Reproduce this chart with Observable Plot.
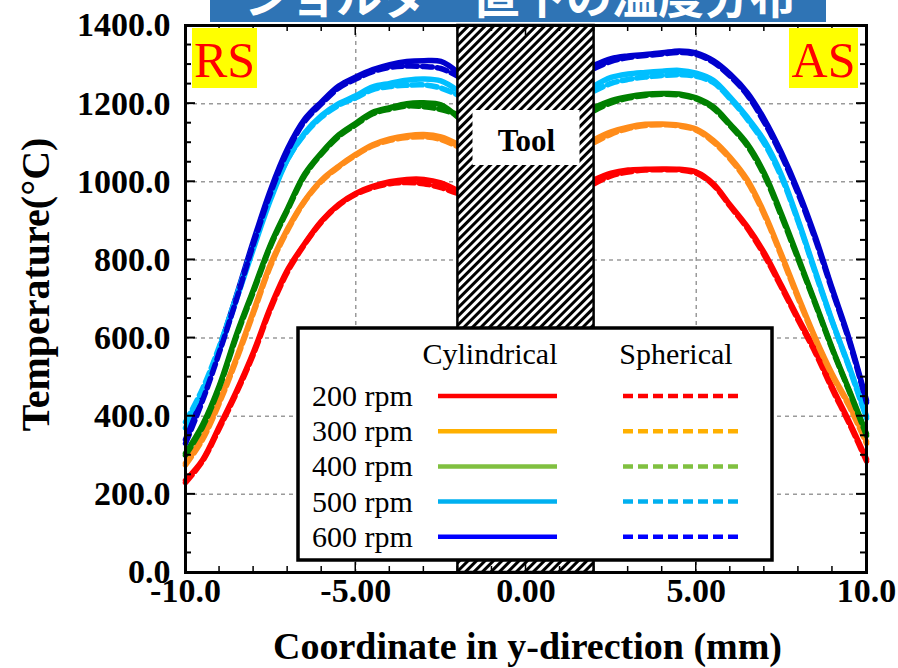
<!DOCTYPE html>
<html><head><meta charset="utf-8">
<script src="https://cdn.jsdelivr.net/npm/d3@7"></script>
<script src="https://cdn.jsdelivr.net/npm/@observablehq/plot@0.6"></script>
<style>
body{margin:0;background:#fff;}
#chart{position:relative;width:898px;height:668px;overflow:hidden;}
</style></head><body><div id="chart"></div>
<script>
// ---------- data ----------
const speeds = ["200 rpm", "300 rpm", "400 rpm", "500 rpm", "600 rpm"];
const lineColors = ["#ff0000", "#ff8c1a", "#008000", "#00bfff", "#0000cd"];
const legendColors = ["#ff0000", "#ffb000", "#80c040", "#00b0f0", "#0000ff"];
const typeNames = ["Cylindrical", "Spherical"];

const xLeft  = [-10, -9.5, -9, -8.5, -8, -7.5, -7, -6.5, -6, -5.5, -5, -4.5, -4, -3.5, -3, -2.5, -2];
const xRight = [2, 2.5, 3, 3.5, 4, 4.5, 5, 5.5, 6, 6.5, 7, 7.5, 8, 8.5, 9, 9.5, 10];

// Cylindrical (solid)
const cyl200L = [236, 288, 375, 465, 565, 680, 775, 842, 900, 942, 970, 988, 1000, 1006, 1006, 997, 977];
const cyl300L = [280, 345, 440, 550, 670, 790, 880, 952, 1005, 1040, 1070, 1095, 1110, 1118, 1121, 1115, 1096];
const cyl400L = [305, 378, 480, 610, 725, 840, 932, 1020, 1075, 1120, 1150, 1178, 1190, 1200, 1202, 1197, 1165];
const cyl500L = [370, 460, 570, 700, 830, 955, 1058, 1125, 1170, 1200, 1220, 1243, 1252, 1260, 1263, 1258, 1233];
const cyl600L = [340, 450, 575, 710, 850, 980, 1085, 1160, 1205, 1245, 1268, 1287, 1300, 1308, 1310, 1308, 1280];
const cyl200R = [1005, 1022, 1030, 1032, 1033, 1032, 1025, 995, 940, 885, 818, 735, 650, 568, 473, 385, 290];
const cyl300R = [1108, 1128, 1140, 1147, 1148, 1145, 1135, 1106, 1062, 1005, 920, 815, 705, 600, 507, 428, 335];
const cyl400R = [1190, 1208, 1218, 1224, 1226, 1225, 1215, 1192, 1147, 1097, 1022, 918, 805, 690, 573, 465, 355];
const cyl500R = [1245, 1267, 1276, 1280, 1283, 1285, 1278, 1260, 1216, 1165, 1105, 1018, 900, 770, 642, 525, 400];
const cyl600R = [1298, 1315, 1322, 1326, 1330, 1335, 1330, 1310, 1275, 1228, 1160, 1075, 975, 858, 725, 595, 440];

// Spherical (dashed)
const sph200L = [230, 285, 370, 460, 560, 675, 770, 840, 898, 940, 968, 985, 995, 998, 995, 985, 970];
const sph300L = [275, 340, 435, 545, 665, 785, 876, 950, 1002, 1038, 1068, 1092, 1106, 1113, 1115, 1108, 1090];
const sph400L = [300, 372, 475, 605, 720, 836, 928, 1016, 1072, 1116, 1146, 1174, 1186, 1194, 1192, 1185, 1172];
const sph500L = [385, 470, 580, 708, 838, 960, 1058, 1122, 1166, 1196, 1215, 1236, 1244, 1247, 1248, 1240, 1222];
const sph600L = [330, 440, 565, 700, 842, 972, 1078, 1155, 1200, 1240, 1263, 1282, 1293, 1296, 1295, 1290, 1270];
const sph200R = [995, 1015, 1025, 1030, 1031, 1030, 1022, 992, 937, 881, 812, 730, 645, 562, 468, 380, 285];
const sph300R = [1100, 1122, 1136, 1144, 1146, 1143, 1132, 1102, 1058, 1000, 915, 810, 700, 596, 503, 424, 330];
const sph400R = [1182, 1202, 1214, 1221, 1224, 1222, 1212, 1188, 1143, 1092, 1016, 912, 800, 686, 570, 462, 350];
const sph500R = [1232, 1252, 1262, 1268, 1272, 1274, 1270, 1254, 1212, 1160, 1098, 1012, 896, 766, 640, 522, 395];
const sph600R = [1290, 1308, 1318, 1323, 1327, 1331, 1326, 1306, 1270, 1222, 1152, 1068, 968, 852, 720, 590, 435];

const xTicks = [-10, -5, 0, 5, 10];
const xTickLabels = ["-10.0", "-5.00", "0.00", "5.00", "10.0"];
const yTicks = [0, 200, 400, 600, 800, 1000, 1200, 1400];
const yTickLabels = ["0.0", "200.0", "400.0", "600.0", "800.0", "1000.0", "1200.0", "1400.0"];
const gridXValues = [-5, 5];
const gridYValues = [200, 400, 600, 800, 1000, 1200];
const toolSpan = [{x1: -2, x2: 2, y1: 0, y2: 1400}];
const toolLabel = "Tool";
const sideLabels = ["RS", "AS"];
const titleText = "ショルダー直下の温度分布";
const xTitle = "Coordinate in y-direction (mm)";
const yTitle = "Temperature(°C)";

// ---------- build tables ----------
const cylL = [cyl200L, cyl300L, cyl400L, cyl500L, cyl600L];
const cylR = [cyl200R, cyl300R, cyl400R, cyl500R, cyl600R];
const sphL = [sph200L, sph300L, sph400L, sph500L, sph600L];
const sphR = [sph200R, sph300R, sph400R, sph500R, sph600R];
function table(Ls, Rs, type) {
  const out = [];
  speeds.forEach((s, i) => {
    xLeft.forEach((x, j) => out.push({speed: s, type, side: "L", x, t: Ls[i][j]}));
    xRight.forEach((x, j) => out.push({speed: s, type, side: "R", x, t: Rs[i][j]}));
  });
  return out;
}
const cylRows = table(cylL, cylR, typeNames[0]);
const sphRows = table(sphL, sphR, typeNames[1]);

const serif = "'Liberation Serif', 'Times New Roman', serif";

const plot = Plot.plot({
  width: 898, height: 668,
  marginLeft: 185, marginRight: 32, marginTop: 25, marginBottom: 96,
  style: {fontFamily: serif, background: "white"},
  x: {domain: [-10, 10]},
  y: {domain: [0, 1400]},
  color: {domain: speeds, range: lineColors},
  marks: [
    Plot.gridX(gridXValues, {stroke: "#9a9a9a", strokeOpacity: 1, strokeWidth: 1.5, strokeDasharray: "4,4"}),
    Plot.gridY(gridYValues, {stroke: "#9a9a9a", strokeOpacity: 1, strokeWidth: 1.5, strokeDasharray: "4,4"}),
    Plot.line(cylRows, {x: "x", y: "t", z: d => d.speed + d.side, stroke: "speed", strokeWidth: 5.5, curve: "catmull-rom"}),
    Plot.line(sphRows, {x: "x", y: "t", z: d => d.speed + d.side, stroke: "speed", strokeWidth: 5.5, strokeDasharray: "10,5", curve: "catmull-rom"}),
    Plot.rect(toolSpan, {x1: "x1", x2: "x2", y1: "y1", y2: "y2", fill: "url(#hatch)", stroke: "black", strokeWidth: 2.5}),
    Plot.frame({stroke: "black", strokeWidth: 3}),
    Plot.axisX(xTicks, {tickSize: 0, tickPadding: 5, fontSize: 34, fontWeight: "bold", fill: "black",
      tickFormat: (d) => xTickLabels[xTicks.indexOf(d)], label: null}),
    Plot.axisY(yTicks, {tickSize: 0, tickPadding: 15, fontSize: 34, fontWeight: "bold", fill: "black",
      tickFormat: (d) => yTickLabels[yTicks.indexOf(d)], label: null})
  ]
});
document.getElementById("chart").appendChild(plot);

const svg = d3.select(plot);
const sx = plot.scale("x"), sy = plot.scale("y");
const X = v => sx.apply(v), Y = v => sy.apply(v);
const fL = X(-10), fR = X(10), fT = Y(1400), fB = Y(0);

// hatch pattern
const defs = svg.insert("defs", ":first-child");
const pat = defs.append("pattern").attr("id", "hatch").attr("patternUnits", "userSpaceOnUse")
  .attr("width", 6).attr("height", 6).attr("patternTransform", "rotate(45)");
pat.append("rect").attr("width", 6).attr("height", 6).attr("fill", "white");
pat.append("rect").attr("width", 3).attr("height", 6).attr("fill", "black");

const g = svg.append("g").attr("text-anchor", "start");

// inward ticks on all four sides
const yMinor = d3.range(0, 1401, 50), xMinor = d3.range(-10, 10.001, 1);
yMinor.forEach(v => {
  const L = v % 200 === 0 ? 10 : 6;
  g.append("line").attr("x1", fL).attr("x2", fL + L).attr("y1", Y(v)).attr("y2", Y(v)).attr("stroke", "black").attr("stroke-width", 2);
  g.append("line").attr("x1", fR).attr("x2", fR - L).attr("y1", Y(v)).attr("y2", Y(v)).attr("stroke", "black").attr("stroke-width", 2);
});
xMinor.forEach(v => {
  const L = Math.abs(v) % 5 === 0 ? 10 : 6;
  g.append("line").attr("x1", X(v)).attr("x2", X(v)).attr("y1", fB).attr("y2", fB - L).attr("stroke", "black").attr("stroke-width", 1.5);
  g.append("line").attr("x1", X(v)).attr("x2", X(v)).attr("y1", fT).attr("y2", fT + L).attr("stroke", "black").attr("stroke-width", 1.5);
});

// Tool label box
const tcx = X(0);
g.append("rect").attr("x", tcx - 53).attr("y", 110).attr("width", 107).attr("height", 55).attr("fill", "white");
g.append("text").attr("x", tcx + 1).attr("y", 151).attr("text-anchor", "middle")
  .attr("font-family", serif).attr("font-weight", "bold").attr("font-size", 31).text(toolLabel);

// RS / AS labels
sideLabels.forEach((lab, i) => {
  const w = i === 0 ? 65 : 69;
  const x0 = i === 0 ? fL + 7 : fR - 8 - w;
  g.append("rect").attr("x", x0).attr("y", fT + 3).attr("width", w).attr("height", 60).attr("fill", "#ffff00");
  g.append("text").attr("x", x0 + w / 2).attr("y", fT + 52).attr("text-anchor", "middle")
    .attr("font-family", serif).attr("font-size", 50).attr("fill", "#ff0000").text(lab);
});

// Legend
const lg = g.append("g");
lg.append("rect").attr("x", 298).attr("y", 328).attr("width", 474).attr("height", 232)
  .attr("fill", "white").attr("stroke", "black").attr("stroke-width", 3.5);
lg.append("text").attr("x", 490).attr("y", 364).attr("text-anchor", "middle").attr("font-family", serif).attr("font-size", 30).text(typeNames[0]);
lg.append("text").attr("x", 676).attr("y", 364).attr("text-anchor", "middle").attr("font-family", serif).attr("font-size", 30).text(typeNames[1]);
speeds.forEach((s, i) => {
  const yy = 396 + i * 35.2;
  lg.append("text").attr("x", 312).attr("y", yy + 10).attr("text-anchor", "start").attr("font-family", serif).attr("font-size", 30).text(s);
  lg.append("line").attr("x1", 438).attr("x2", 557).attr("y1", yy).attr("y2", yy).attr("stroke", legendColors[i]).attr("stroke-width", 4.5);
  lg.append("line").attr("x1", 623).attr("x2", 743).attr("y1", yy).attr("y2", yy).attr("stroke", legendColors[i]).attr("stroke-width", 4.5).attr("stroke-dasharray", "10,5");
});

// Axis titles
g.append("text").attr("x", (fL + fR) / 2 + 2).attr("y", 659).attr("text-anchor", "middle")
  .attr("font-family", serif).attr("font-weight", "bold").attr("font-size", 38).text(xTitle);
g.append("text").attr("transform", `translate(49,${(fT + fB) / 2 - 14}) rotate(-90)`).attr("text-anchor", "middle")
  .attr("font-family", serif).attr("font-weight", "bold").attr("font-size", 40).text(yTitle);

// Title banner (cropped at top)
g.append("rect").attr("x", 210).attr("y", 0).attr("width", 616).attr("height", 22).attr("fill", "#2f74b5");
g.append("text").attr("x", 520).attr("y", 13).attr("text-anchor", "middle")
  .attr("font-family", "'Noto Sans CJK JP', sans-serif").attr("font-weight", "bold").attr("font-size", 46)
  .attr("fill", "white").text(titleText);
</script>
</body></html>
